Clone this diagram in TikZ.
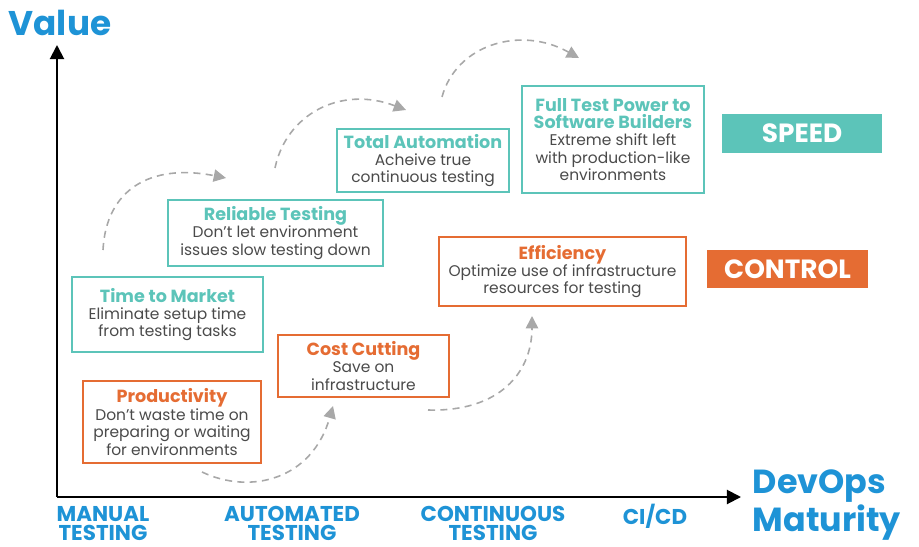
\documentclass[tikz,border=0pt]{standalone}
\usepackage{fontspec}
\setmainfont{Poppins}
\usetikzlibrary{arrows.meta}

\definecolor{speedteal}{HTML}{5CC4B9}
\definecolor{controlorange}{HTML}{E56C33}
\definecolor{axisblue}{HTML}{1E93D6}
\definecolor{bodygray}{HTML}{4A4A4A}
\definecolor{arrowgray}{HTML}{A8A8A8}

\newcommand{\bodysize}{\fontsize{8.8}{9.9}\selectfont}
\newcommand{\boxtitle}[2]{{\color{#1}\bfseries\fontsize{10}{11.6}\selectfont #2}}

\begin{document}
\begin{tikzpicture}[x=0.02cm,y=-0.02cm,
    tealbox/.style={draw=speedteal,line width=0.9pt,align=center,text=bodygray,
        font=\bodysize,inner sep=0pt},
    orangebox/.style={draw=controlorange,line width=0.9pt,align=center,text=bodygray,
        font=\bodysize,inner sep=0pt},
    tagbox/.style={text=white,font=\bfseries\fontsize{15}{16}\selectfont,inner sep=0pt},
    stagelabel/.style={text=axisblue,font=\bfseries\fontsize{12.2}{11.2}\selectfont,
        align=center,inner sep=0pt},
    axisline/.style={line width=1.1pt,-{Triangle[length=8pt,width=8pt]}},
    hop/.style={arrowgray,line width=0.9pt,dash pattern=on 4pt off 3pt,
        -{Triangle[length=7pt,width=7pt]}}]

    \useasboundingbox (0,0) rectangle (919,547);

    % axes
    \coordinate (origin) at (57,497);
    \coordinate (ytip) at (57,45);
    \coordinate (xtip) at (741,497);
    \draw[axisline] (origin) -- (ytip);
    \draw[axisline] (origin) -- (xtip);

    \node[text=axisblue,font=\bfseries\fontsize{19.5}{20}\selectfont] (value) at (60,23) {Value};
    \node[text=axisblue,font=\bfseries\fontsize{19}{18.8}\selectfont,align=left] (maturity) at (827,505) {DevOps\\Maturity};

    \node[stagelabel] (manual) at (103,523.5) {MANUAL\\TESTING};
    \node[stagelabel] (automated) at (292,523.5) {AUTOMATED\\TESTING};
    \node[stagelabel] (continuous) at (493,523.5) {CONTINUOUS\\TESTING};
    \node[stagelabel] (cicd) at (655,516) {CI/CD};

    % speed boxes
    \node[tealbox,minimum width=191*0.02cm,minimum height=75*0.02cm] (market) at (167.5,314.5)
        {\boxtitle{speedteal}{Time to Market}\\Eliminate setup time\\from testing tasks};
    \node[tealbox,minimum width=215*0.02cm,minimum height=66*0.02cm] (reliable) at (275.5,233)
        {\boxtitle{speedteal}{Reliable Testing}\\Don’t let environment\\issues slow testing down};
    \node[tealbox,minimum width=172*0.02cm,minimum height=63*0.02cm] (automation) at (423,160.5)
        {\boxtitle{speedteal}{Total Automation}\\Acheive true\\continuous testing};
    \node[tealbox,minimum width=182*0.02cm,minimum height=107*0.02cm] (builders) at (613,139.5)
        {\boxtitle{speedteal}{Full Test Power to}\\\boxtitle{speedteal}{Software Builders}\\Extreme shift left\\with production-like\\environments};

    % control boxes
    \node[orangebox,minimum width=178*0.02cm,minimum height=82*0.02cm] (productivity) at (172,422)
        {\boxtitle{controlorange}{Productivity}\\Don’t waste time on\\preparing or waiting\\for environments};
    \node[orangebox,minimum width=171*0.02cm,minimum height=62*0.02cm] (cost) at (363.5,366)
        {\boxtitle{controlorange}{Cost Cutting}\\Save on\\infrastructure};
    \node[orangebox,minimum width=247*0.02cm,minimum height=69*0.02cm] (efficiency) at (562.5,271.5)
        {\boxtitle{controlorange}{Efficiency}\\Optimize use of infrastructure\\resources for testing};

    \node[tagbox,fill=speedteal,minimum width=160*0.02cm,minimum height=39*0.02cm] (speed) at (802,133.5) {SPEED};
    \node[tagbox,fill=controlorange,minimum width=161*0.02cm,minimum height=38*0.02cm] (control) at (787.5,269) {CONTROL};

    % dashed hops
    \coordinate (hop1a) at (103,250);
    \coordinate (hop1b) at (226,178);
    \coordinate (hop2a) at (275,168);
    \coordinate (hop2b) at (406,110);
    \coordinate (hop3a) at (442,97);
    \coordinate (hop3b) at (579,58);
    \coordinate (hop4a) at (202,472);
    \coordinate (hop4b) at (333,406);
    \coordinate (hop5a) at (428,410);
    \coordinate (hop5b) at (532,316);

    \draw[hop] (hop1a) .. controls (106,190) and (150,163) .. (hop1b);
    \draw[hop] (hop2a) .. controls (286,115) and (340,85) .. (hop2b);
    \draw[hop] (hop3a) .. controls (456,45) and (520,25) .. (hop3b);
    \draw[hop] (hop4a) .. controls (250,495) and (312,480) .. (hop4b);
    \draw[hop] (hop5a) .. controls (500,412) and (532,372) .. (hop5b);

\end{tikzpicture}
\end{document}
